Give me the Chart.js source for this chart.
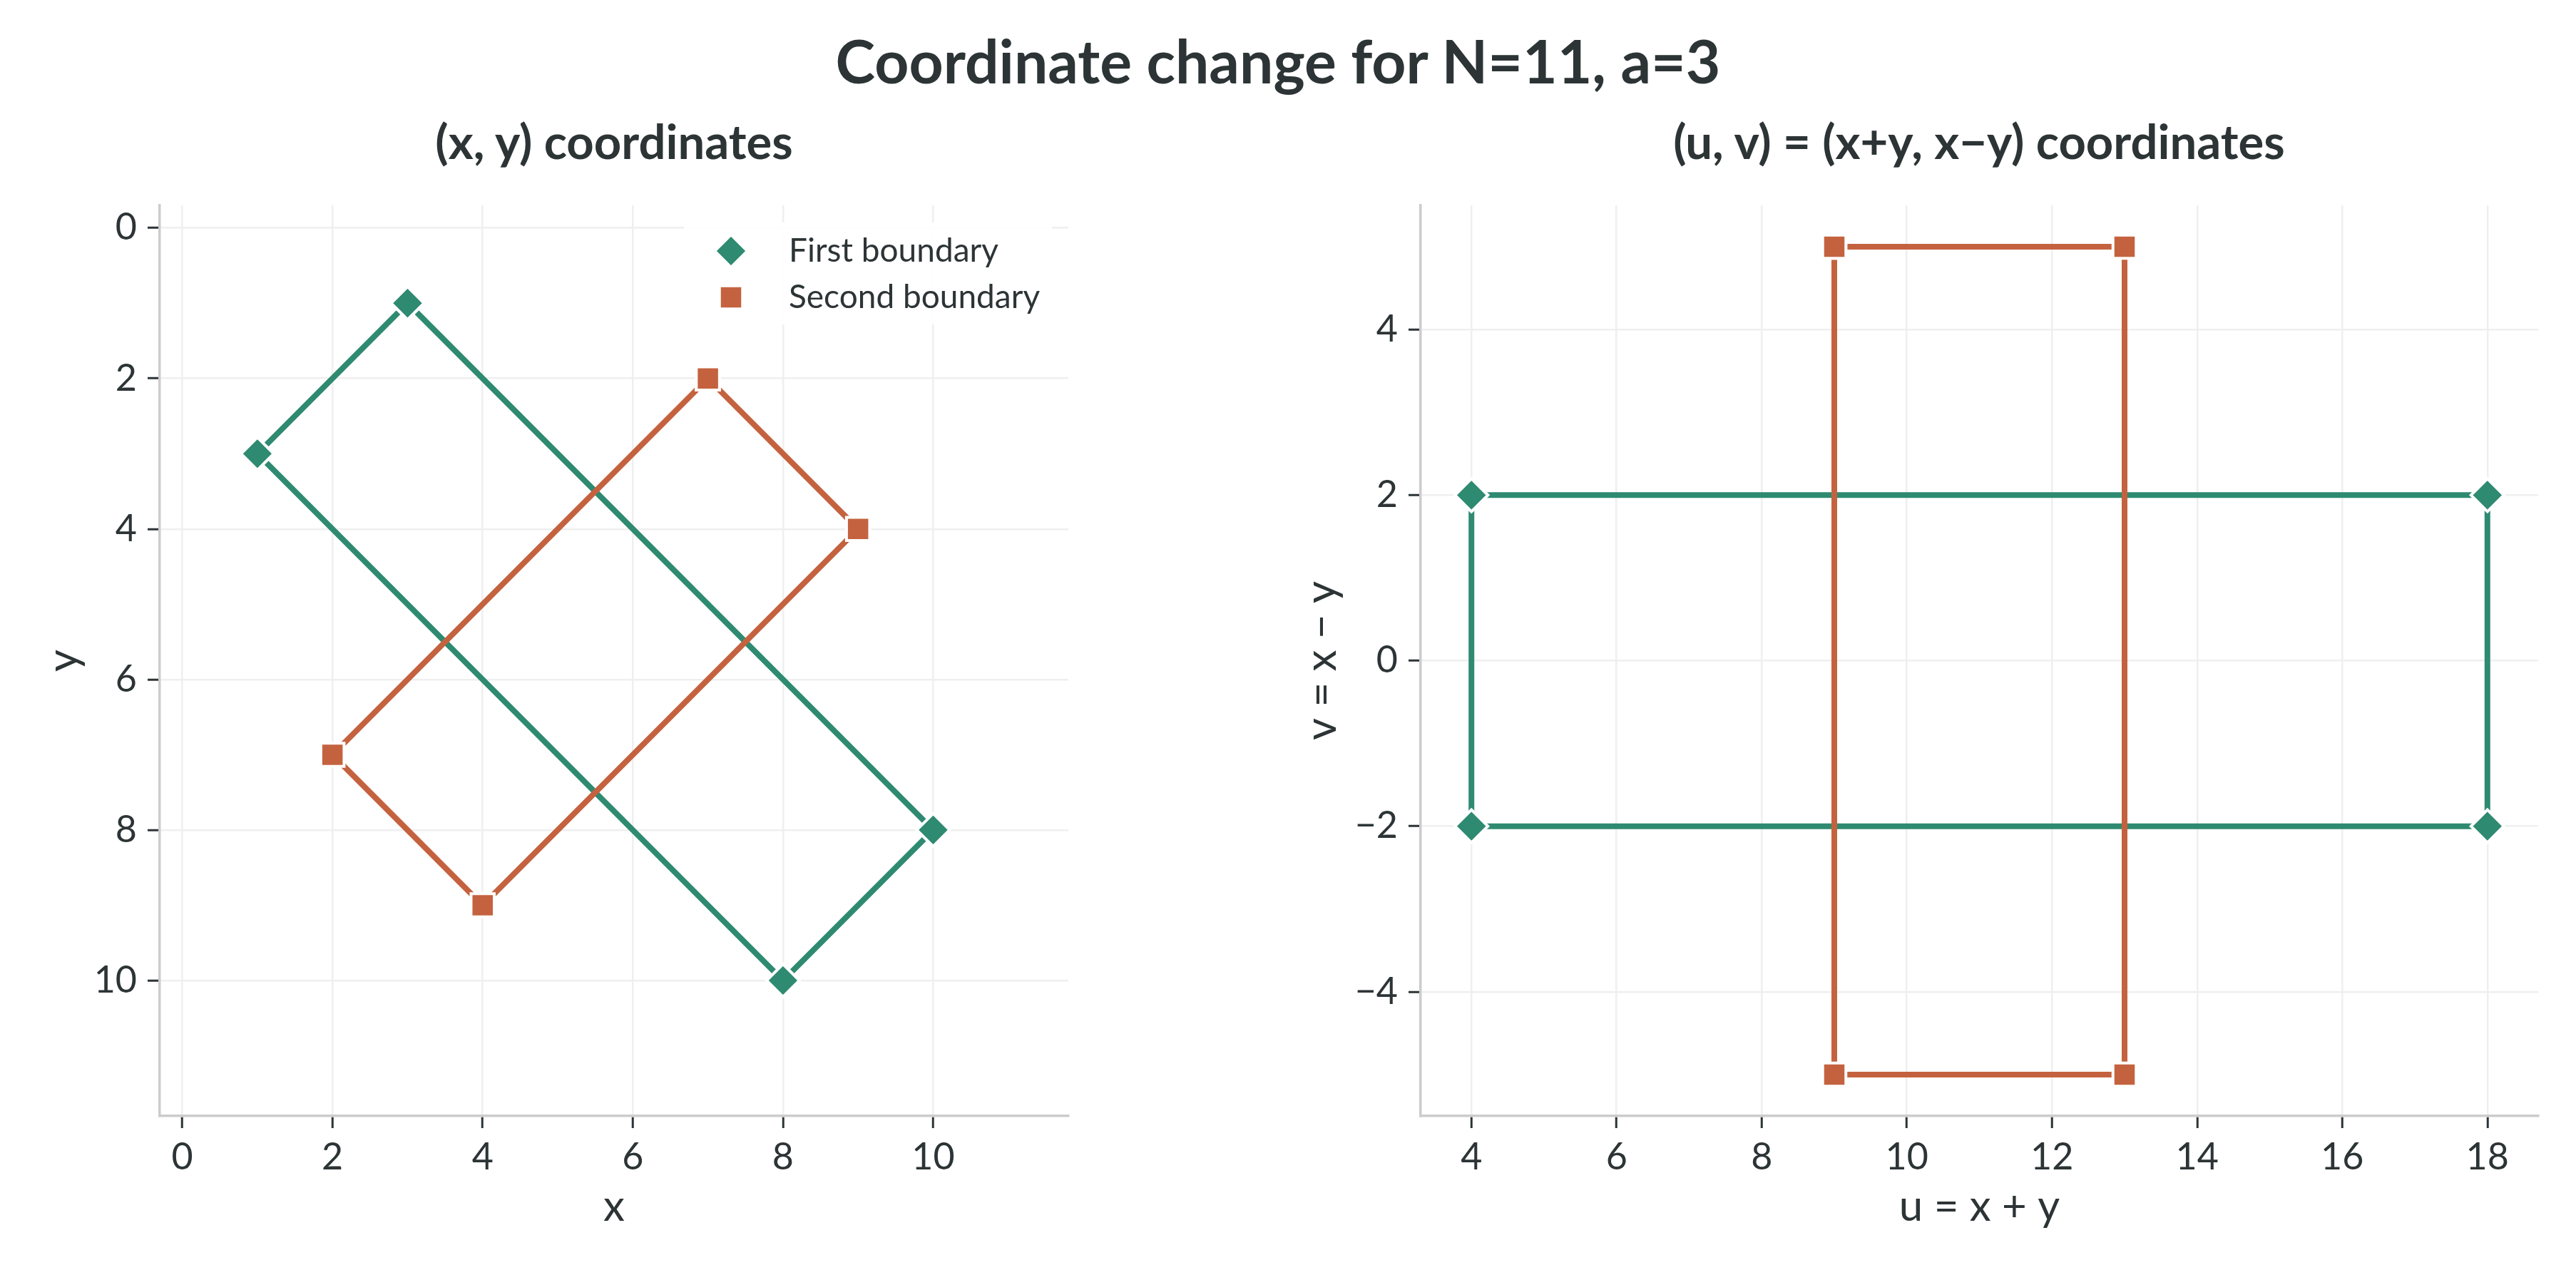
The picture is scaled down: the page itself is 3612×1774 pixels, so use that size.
<!DOCTYPE html>
<html>
<head>
<meta charset="utf-8">
<title>Coordinate change for N=11, a=3</title>
<script src="https://cdn.jsdelivr.net/npm/chart.js@4.4.1/dist/chart.umd.min.js"></script>
<style>
  html, body { margin: 0; padding: 0; background: #fff; }
  body {
    width: 3612px; height: 1774px; position: relative; overflow: hidden;
    font-family: Lato, sans-serif; color: #2d3436;
  }
  .title {
    position: absolute; white-space: nowrap; font-weight: 700; line-height: 1;
    transform: translate(-50%, -50%);
  }
  .main { left: 1792px; top: 85px; font-size: 84px; }
  .sub { top: 197px; font-size: 67px; }
  .panel { position: absolute; top: 0; height: 1774px; }
  canvas { display: block; }
</style>
</head>
<body>
<div class="title main">Coordinate change for N=11, a=3</div>
<div class="title sub" style="left: 861px">(x, y) coordinates</div>
<div class="title sub" style="left: 2775px">(u, v) = (x+y, x−y) coordinates</div>
<div class="panel" style="left: 0; width: 1560px"><canvas id="chart-xy" width="1560" height="1774"></canvas></div>
<div class="panel" style="left: 1700px; width: 1912px"><canvas id="chart-uv" width="1912" height="1774"></canvas></div>

<script>
  /* ---------- Data ---------- */

  // corners of each boundary, in drawing order (closed back to the start)
  const firstX = [3, 1, 8, 10, 3];
  const firstY = [1, 3, 10, 8, 1];
  const secondX = [7, 9, 4, 2, 7];
  const secondY = [2, 4, 9, 7, 2];

  const firstU = [4, 4, 18, 18, 4];
  const firstV = [2, -2, -2, 2, 2];
  const secondU = [9, 13, 13, 9, 9];
  const secondV = [5, 5, -5, -5, 5];

  const xyTicks = [0, 2, 4, 6, 8, 10];
  const uTicks = [4, 6, 8, 10, 12, 14, 16, 18];
  const vTicks = [-4, -2, 0, 2, 4];

  const seriesNames = ['First boundary', 'Second boundary'];
  const seriesColors = ['#2e8a70', '#c4623f'];
  const seriesMarkers = ['rectRot', 'rect'];

  /* ---------- Style ---------- */

  const INK = '#2d3436';
  const GRID = '#efefef';
  const SPINE = '#cccccc';

  Chart.defaults.font.family = 'Lato, sans-serif';
  Chart.defaults.color = INK;

  function toPoints(xs, ys) {
    return xs.map((x, i) => ({ x: x, y: ys[i] }));
  }

  function boundary(i, xs, ys) {
    return {
      label: seriesNames[i],
      data: toPoints(xs, ys),
      showLine: true,
      tension: 0,
      borderColor: seriesColors[i],
      backgroundColor: seriesColors[i],
      borderWidth: 8,
      pointStyle: seriesMarkers[i],
      pointRadius: 23,
      pointHoverRadius: 23,
      pointBackgroundColor: seriesColors[i],
      pointBorderColor: '#ffffff',
      pointBorderWidth: 4,
      order: 1 - i, // second boundary on top
    };
  }

  function axis(cfg) {
    return {
      type: 'linear',
      min: cfg.min,
      max: cfg.max,
      reverse: !!cfg.reverse,
      afterBuildTicks: (s) => { s.ticks = cfg.ticks.map((v) => ({ value: v })); },
      afterFit: (s) => {
        if (cfg.horizontal) s.height = cfg.size;
        else s.width = cfg.size;
      },
      grid: {
        color: GRID,
        lineWidth: 2.5,
        tickColor: INK,
        tickWidth: 3,
        tickLength: 17,
      },
      border: { display: true, color: SPINE, width: 3.5 },
      ticks: {
        color: INK,
        font: { size: 52 },
        padding: cfg.horizontal ? 10 : 15,
        maxRotation: 0,
        autoSkip: false,
        callback: (v) => String(v).replace('-', '\u2212'),
      },
      title: {
        display: true,
        text: cfg.title,
        color: INK,
        font: { size: 60 },
        padding: cfg.titlePad,
      },
    };
  }

  /* ---------- Legend drawn inside the left plot ---------- */

  const insideLegend = {
    id: 'insideLegend',
    afterDraw(chart, args, opts) {
      if (!opts.show) return;
      const ctx = chart.ctx;
      const a = chart.chartArea;
      ctx.save();
      ctx.fillStyle = 'rgba(255,255,255,0.9)';
      ctx.fillRect(a.right - 539, a.top + 24, 516, 143);
      chart.data.datasets.forEach((ds, i) => {
        const y = a.top + 64 + i * 65;
        ctx.fillStyle = ds.pointBackgroundColor;
        ctx.strokeStyle = ds.pointBorderColor;
        ctx.lineWidth = ds.pointBorderWidth;
        Chart.helpers.drawPoint(ctx, {
          pointStyle: ds.pointStyle,
          radius: ds.pointRadius,
          borderWidth: ds.pointBorderWidth,
          rotation: 0,
        }, a.right - 473, y);
        ctx.fillStyle = INK;
        ctx.font = '46px Lato, sans-serif';
        ctx.textAlign = 'left';
        ctx.textBaseline = 'middle';
        ctx.fillText(ds.label, a.right - 392, y);
      });
      ctx.restore();
    },
  };

  /* ---------- Charts ---------- */

  const common = {
    responsive: false,
    animation: false,
    events: [],
  };

  new Chart(document.getElementById('chart-xy'), {
    type: 'scatter',
    data: {
      datasets: [
        boundary(0, firstX, firstY),
        boundary(1, secondX, secondY),
      ],
    },
    options: Object.assign({}, common, {
      layout: { padding: { top: 288, right: 62, left: 0, bottom: 0 } },
      scales: {
        x: axis({ horizontal: true, min: -0.3, max: 11.8, ticks: xyTicks, size: 209,
          title: 'x', titlePad: { top: 0, bottom: 45 } }),
        y: axis({ min: -0.3, max: 11.8, reverse: true, ticks: xyTicks, size: 224,
          title: 'y', titlePad: { top: 54, bottom: 0 } }),
      },
      plugins: {
        legend: { display: false },
        tooltip: { enabled: false },
        insideLegend: { show: true },
      },
    }),
    plugins: [insideLegend],
  });

  new Chart(document.getElementById('chart-uv'), {
    type: 'scatter',
    data: {
      datasets: [
        boundary(0, firstU, firstV),
        boundary(1, secondU, secondV),
      ],
    },
    options: Object.assign({}, common, {
      layout: { padding: { top: 288, right: 53, left: 0, bottom: 0 } },
      scales: {
        x: axis({ horizontal: true, min: 3.3, max: 18.7, ticks: uTicks, size: 209,
          title: 'u = x + y', titlePad: { top: 0, bottom: 45 } }),
        y: axis({ min: -5.5, max: 5.5, ticks: vTicks, size: 292,
          title: 'v = x \u2212 y', titlePad: { top: 118, bottom: 0 } }),
      },
      plugins: {
        legend: { display: false },
        tooltip: { enabled: false },
        insideLegend: { show: false },
      },
    }),
    plugins: [insideLegend],
  });
</script>
</body>
</html>
